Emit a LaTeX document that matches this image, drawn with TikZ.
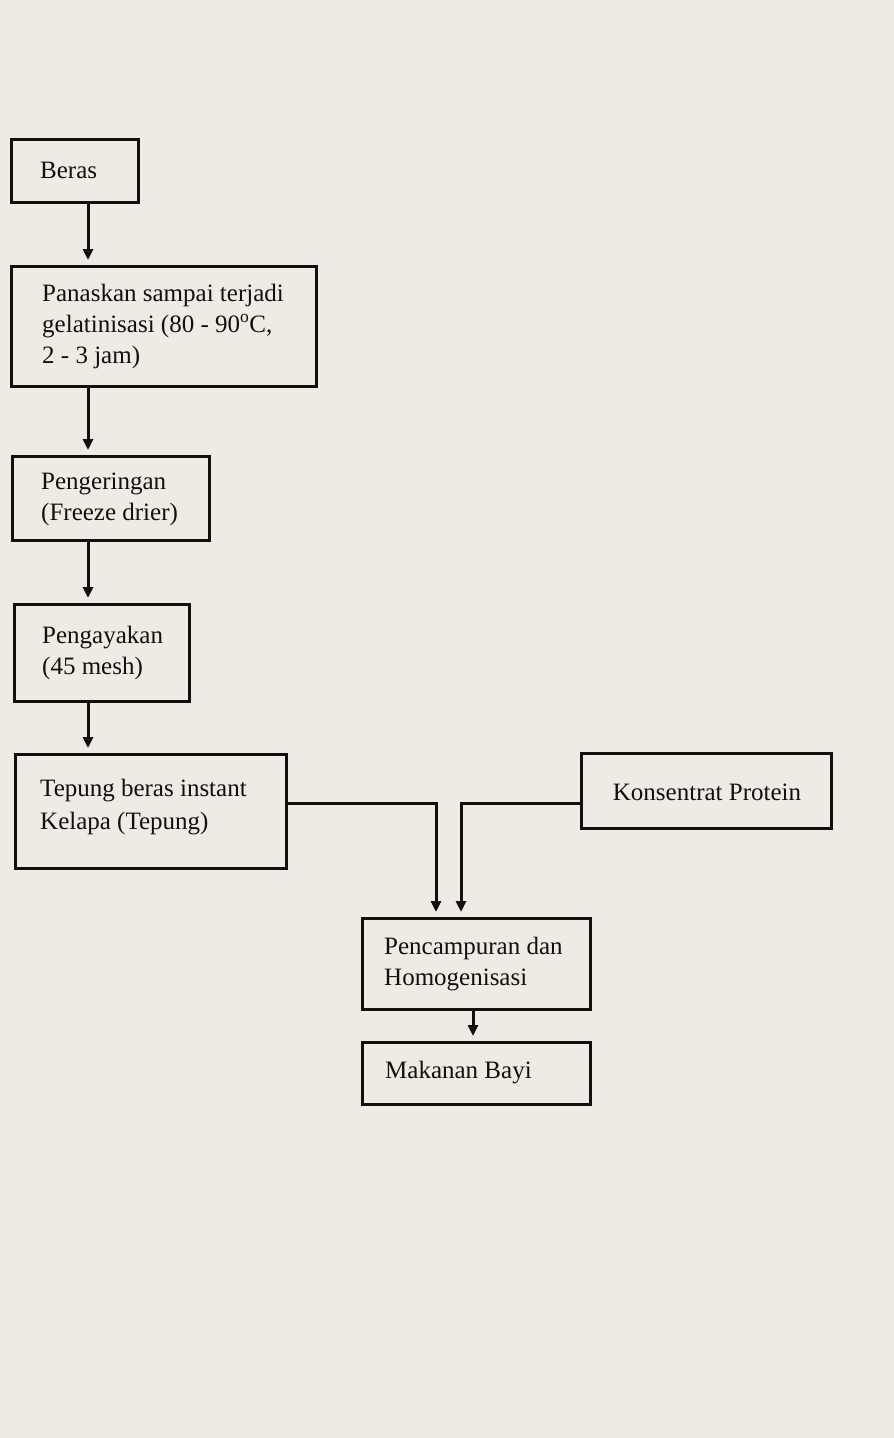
\documentclass[tikz,border=0pt]{standalone}
\usepackage{fontspec}
\setmainfont{Liberation Serif}
\usetikzlibrary{arrows.meta}
\definecolor{paper}{RGB}{237,235,227}
\definecolor{ink}{RGB}{18,16,14}
\begin{document}
\begin{tikzpicture}[x=1pt,y=-1pt,
  box/.style={draw=ink, line width=3.2pt, rectangle, inner sep=0pt, anchor=north west},
  txt/.style={anchor=west, align=left, inner sep=0pt, text=ink, font=\fontsize{25}{31}\selectfont},
  flow/.style={draw=ink, line width=3pt, -{Triangle[length=11pt,width=10pt]}, shorten >=5pt}]
\fill[paper] (0,0) rectangle (894,1438);
\useasboundingbox (0,0) rectangle (894,1438);

% boxes
\node[box, minimum width=127pt, minimum height=63pt]  (beras)   at (10,138) {};
\node[box, minimum width=305pt, minimum height=120pt] (panas)   at (10,265) {};
\node[box, minimum width=197pt, minimum height=84pt]  (kering)  at (11,455) {};
\node[box, minimum width=175pt, minimum height=97pt]  (ayak)    at (13,603) {};
\node[box, minimum width=271pt, minimum height=114pt] (tepung)  at (14,753) {};
\node[box, minimum width=250pt, minimum height=75pt]  (konsen)  at (580,752) {};
\node[box, minimum width=228pt, minimum height=91pt]  (campur)  at (361,917) {};
\node[box, minimum width=228pt, minimum height=62pt]  (makan)   at (361,1041) {};

% texts
\node[txt] (t-beras)  at (40,170) {Beras};
\node[txt] (t-panas)  at (42,326) {Panaskan sampai terjadi\\gelatinisasi (80 - 90\textsuperscript{o}C,\\2 - 3 jam)};
\node[txt] (t-kering) at (41,499) {Pengeringan\\(Freeze drier)};
\node[txt] (t-ayak)   at (42,653) {Pengayakan\\(45 mesh)};
\node[txt, font=\fontsize{25}{33}\selectfont] (t-tepung) at (40,807) {Tepung beras instant\\Kelapa (Tepung)};
\node[txt, anchor=center] (t-konsen) at (707,792) {Konsentrat Protein};
\node[txt] (t-campur) at (384,964) {Pencampuran dan\\Homogenisasi};
\node[txt] (t-makan)  at (385,1073) {Makanan Bayi};

% connectors
\coordinate (colx) at (88,0);
\coordinate (ty) at (0,803);
\draw[flow] (beras.south -| colx) -- (panas.north -| colx);
\draw[flow] (panas.south -| colx) -- (kering.north -| colx);
\draw[flow] (kering.south -| colx) -- (ayak.north -| colx);
\draw[flow] (ayak.south -| colx) -- (tepung.north -| colx);
\draw[flow] (tepung.east |- ty) -| ([xshift=75pt]campur.north west);
\draw[flow] (konsen.west |- ty) -| ([xshift=100pt]campur.north west);
\draw[flow] ([xshift=112pt]campur.south west) -- ([xshift=112pt]makan.north west);
\end{tikzpicture}
\end{document}
